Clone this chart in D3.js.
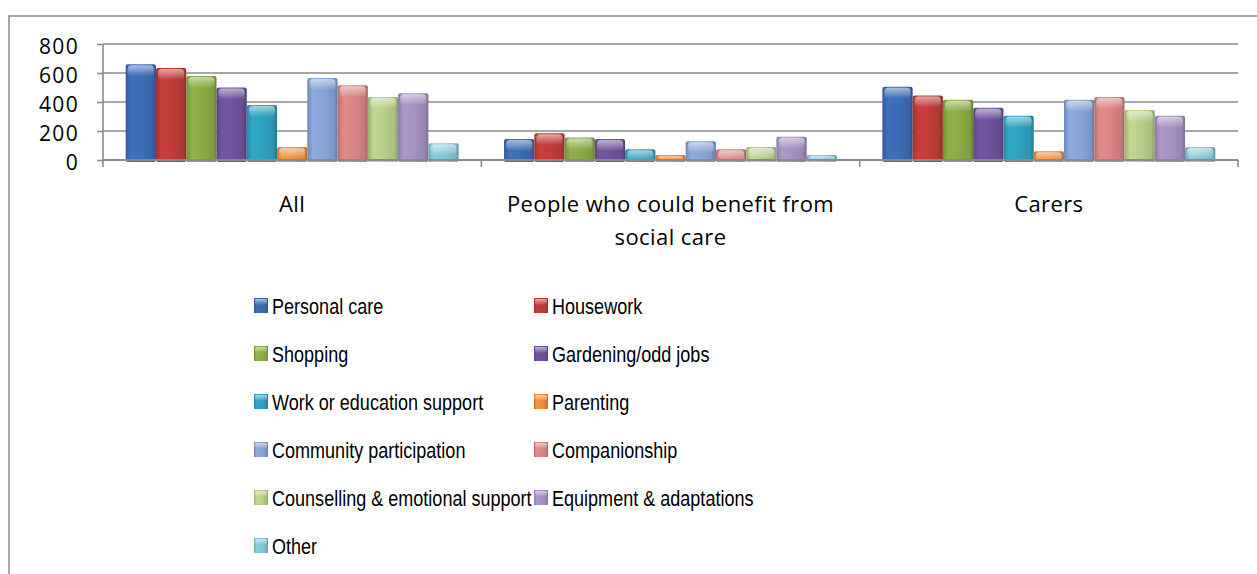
<!DOCTYPE html>
<html>
<head>
<meta charset="utf-8">
<script src="https://cdn.jsdelivr.net/npm/d3@7/dist/d3.min.js"></script>
<style>
  html, body { margin: 0; padding: 0; background: #fff; }
  svg { display: block; }
  .tick-label { font-family: "Open Sans", "Liberation Sans", sans-serif; font-size: 21px; letter-spacing: 1.3px; fill: #000; }
  .cat-label { font-family: "Open Sans", "Liberation Sans", sans-serif; font-size: 22px; letter-spacing: 0.4px; fill: #000; }
  .legend-label { font-family: "Liberation Sans", "Arial", sans-serif; font-size: 22px; fill: #000; }
</style>
</head>
<body>
<svg id="chart" width="1257" height="574"></svg>
<script>
// Survey groups along the x axis
const categories = ["All", "People who could benefit from social care", "Carers"];

// Types of support (one bar per type in every group)
const series = [
  "Personal care", "Housework", "Shopping", "Gardening/odd jobs",
  "Work or education support", "Parenting", "Community participation",
  "Companionship", "Counselling & emotional support", "Equipment & adaptations", "Other"
];

// Counts per group, in series order
const allValues    = [660, 635, 580, 500, 380, 90, 565, 515, 435, 460, 115];
const peopleValues = [145, 185, 155, 145, 75, 35, 130, 75, 90, 160, 35];
const carersValues = [505, 445, 415, 360, 305, 60, 415, 435, 345, 305, 90];

const yTicks = [0, 200, 400, 600, 800];

const colors = [
  "#3b6db5", "#bf3d39", "#8aac45", "#6f539c", "#2ea2bf", "#f28c36",
  "#86a4d6", "#d98583", "#b8d089", "#a691c3", "#84c7d9"
];

const groupValues = [allValues, peopleValues, carersValues];
const table = categories.map((c, gi) => ({
  category: c,
  values: series.map((s, si) => ({ series: s, index: si, value: groupValues[gi][si] }))
}));

const svg = d3.select("#chart");
const defs = svg.append("defs");

// Shaded fills that give the bars their rounded, glassy look
colors.forEach((c, i) => {
  const base = d3.color(c);
  const g = defs.append("linearGradient").attr("id", "bar-grad-" + i)
    .attr("x1", "0%").attr("x2", "100%").attr("y1", "0%").attr("y2", "0%");
  g.append("stop").attr("offset", "0%").attr("stop-color", base.darker(0.5));
  g.append("stop").attr("offset", "18%").attr("stop-color", base.brighter(0.1));
  g.append("stop").attr("offset", "55%").attr("stop-color", base);
  g.append("stop").attr("offset", "88%").attr("stop-color", base.darker(0.25));
  g.append("stop").attr("offset", "100%").attr("stop-color", base.darker(0.8));
});
const capGrad = defs.append("linearGradient").attr("id", "cap-grad")
  .attr("x1", "0%").attr("x2", "0%").attr("y1", "0%").attr("y2", "100%");
capGrad.append("stop").attr("offset", "0%").attr("stop-color", "#fff").attr("stop-opacity", 0.55);
capGrad.append("stop").attr("offset", "100%").attr("stop-color", "#fff").attr("stop-opacity", 0);

// Chart area frame
svg.append("rect")
  .attr("x", 9).attr("y", 16).attr("width", 1260).attr("height", 600)
  .attr("fill", "none").attr("stroke", "#8a8a8a").attr("stroke-width", 1.5);

const plot = { left: 103, right: 1238, top: 44, bottom: 160 };

const x0 = d3.scaleBand().domain(categories).range([plot.left, plot.right]).paddingInner(0).paddingOuter(0);
const x1 = d3.scaleBand().domain(series).range([0, x0.bandwidth()]).paddingInner(0).paddingOuter(0.75);
const y = d3.scaleLinear().domain([0, 800]).range([plot.bottom, plot.top]);

// Horizontal gridlines
svg.append("g").selectAll("line").data(yTicks.filter(t => t > 0)).join("line")
  .attr("x1", plot.left).attr("x2", plot.right)
  .attr("y1", d => y(d)).attr("y2", d => y(d))
  .attr("stroke", "#8a8a8a").attr("stroke-width", 1.6);

// Y axis
const yAxis = svg.append("g").attr("transform", `translate(${plot.left},0)`)
  .call(d3.axisLeft(y).tickValues(yTicks).tickSize(6).tickPadding(18));
yAxis.attr("font-family", null).attr("font-size", null);
yAxis.select(".domain").attr("stroke", "#8a8a8a").attr("stroke-width", 1.6)
  .attr("d", `M0,${y(800)}V${plot.bottom}`);
yAxis.selectAll(".tick line").attr("stroke", "#8a8a8a").attr("stroke-width", 1.6);
yAxis.selectAll(".tick text").attr("class", "tick-label").attr("dy", "0.45em");

// Bars
const groups = svg.append("g").selectAll("g").data(table).join("g")
  .attr("transform", d => `translate(${x0(d.category)},0)`);

groups.selectAll("rect.bar").data(d => d.values).join("rect")
  .attr("class", "bar")
  .attr("x", d => x1(d.series))
  .attr("y", d => y(d.value))
  .attr("width", x1.bandwidth())
  .attr("height", d => y(0) - y(d.value) + 2)
  .attr("rx", 2)
  .attr("fill", d => `url(#bar-grad-${d.index})`);

groups.selectAll("rect.cap").data(d => d.values).join("rect")
  .attr("class", "cap")
  .attr("x", d => x1(d.series) + 2)
  .attr("y", d => y(d.value) + 1)
  .attr("width", x1.bandwidth() - 4)
  .attr("height", d => Math.min(11, y(0) - y(d.value)))
  .attr("rx", 4)
  .attr("fill", "url(#cap-grad)");

// X axis baseline and category ticks
svg.append("line")
  .attr("x1", plot.left).attr("x2", plot.right)
  .attr("y1", y(0)).attr("y2", y(0))
  .attr("stroke", "#8a8a8a").attr("stroke-width", 2);

const catEdges = categories.map(c => x0(c)).concat([plot.right]);
svg.append("g").selectAll("line").data(catEdges).join("line")
  .attr("x1", d => d).attr("x2", d => d)
  .attr("y1", y(0)).attr("y2", y(0) + 7)
  .attr("stroke", "#8a8a8a").attr("stroke-width", 1.6);

// Category labels, wrapped to the width of each group
const catText = svg.append("g").selectAll("text").data(categories).join("text")
  .attr("class", "cat-label")
  .attr("text-anchor", "middle")
  .attr("x", d => x0(d) + x0.bandwidth() / 2)
  .attr("y", 212);

catText.each(function (d) {
  const el = d3.select(this);
  const words = d.split(" ");
  const maxW = x0.bandwidth() * 0.92;
  let line = [];
  let tspan = el.append("tspan").attr("x", el.attr("x")).attr("dy", 0);
  words.forEach(w => {
    line.push(w);
    tspan.text(line.join(" "));
    if (tspan.node().getComputedTextLength() > maxW && line.length > 1) {
      line.pop();
      tspan.text(line.join(" "));
      line = [w];
      tspan = el.append("tspan").attr("x", el.attr("x")).attr("dy", 33).text(w);
    }
  });
});

// Legend: two columns, filled row by row
const legend = svg.append("g");
const legendCols = [254, 534];
const legendTop = 306;
const legendRow = 48;
const legendSquash = 0.82;

const items = legend.selectAll("g").data(series).join("g")
  .attr("transform", (d, i) => `translate(${legendCols[i % 2]},${legendTop + Math.floor(i / 2) * legendRow})`);

items.append("rect")
  .attr("x", 0).attr("y", -8).attr("width", 14).attr("height", 15)
  .attr("fill", (d, i) => `url(#bar-grad-${i})`);
items.append("rect")
  .attr("x", 1).attr("y", -7).attr("width", 12).attr("height", 6)
  .attr("fill", "url(#cap-grad)");

items.append("text")
  .attr("class", "legend-label")
  .attr("transform", `translate(18,0) scale(${legendSquash},1)`)
  .attr("dy", "0.36em")
  .text(d => d);
</script>
</body>
</html>
